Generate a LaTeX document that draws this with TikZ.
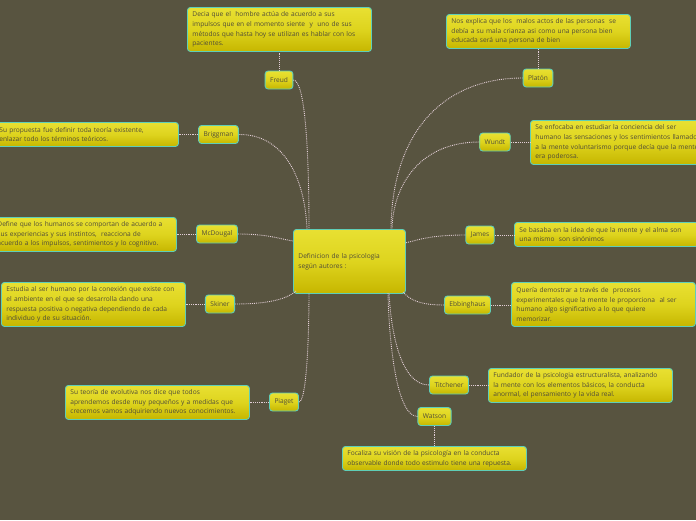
\documentclass[tikz,border=0pt]{standalone}
\usepackage{fontspec}
\setmainfont{Open Sans}
\definecolor{bg}{RGB}{88,84,64}
\definecolor{boxtop}{RGB}{232,224,50}
\definecolor{boxmid}{RGB}{222,212,30}
\definecolor{boxbot}{RGB}{198,182,0}
\definecolor{boxline}{RGB}{94,206,184}
\definecolor{txt}{RGB}{80,76,56}
\definecolor{lnk}{RGB}{226,206,214}
\tikzset{
  basebox/.style={draw=boxline, line width=0.9pt, rounded corners=3pt,
    top color=boxtop, bottom color=boxbot, middle color=boxmid,
    text=txt, font=\fontsize{6.6}{9.8}\selectfont},
  desc/.style={basebox, anchor=north west, minimum width=184pt, text width=174pt,
    inner xsep=5pt, inner ysep=2pt, align=left},
  lbl/.style={basebox, minimum height=18pt, inner xsep=5pt, inner ysep=0pt},
  conn/.style={draw=lnk, line width=0.9pt, densely dotted},
  link/.style={draw=lnk, line width=0.9pt, densely dotted}
}
\begin{document}
\begin{tikzpicture}[x=1pt,y=-1pt]
\fill[bg] (0,0) rectangle (696,520);
\useasboundingbox (0,0) rectangle (696,520);

% central
\node[basebox, anchor=north west, minimum width=112pt, minimum height=64pt, text width=102pt, inner xsep=5pt, align=left] (c) at (293,229) {Definicion de la psicologia\\según autores :};
\coordinate (cFreud) at (309,229);
\coordinate (cBrig) at (307,229);
\coordinate (cPlat) at (391,229);
\coordinate (cWundt) at (392,229);
\coordinate (cMcD) at (293,241);
\coordinate (cSki) at (296,291);
\coordinate (cPia) at (309,293);
\coordinate (cJam) at (405,243);
\coordinate (cEbb) at (403,292);
\coordinate (cTit) at (389,293);
\coordinate (cWat) at (388,293);

% labels
\node[lbl] (freud) at (279,80) {Freud};
\node[lbl] (platon) at (538,78) {Platón};
\node[lbl] (brig) at (218.5,134.5) {Briggman};
\node[lbl] (wundt) at (495,142) {Wundt};
\node[lbl] (mcd) at (217,234) {McDougal};
\node[lbl] (james) at (480,235) {James};
\node[lbl] (skiner) at (220,304) {Skiner};
\node[lbl] (ebb) at (467.5,305) {Ebbinghaus};
\node[lbl] (piaget) at (284,402) {Piaget};
\node[lbl] (titch) at (449,385) {Titchener};
\node[lbl] (watson) at (434.5,416.5) {Watson};

% description boxes
\node[desc, minimum height=44pt] (dfreud) at (187,7) {Decia que el \ hombre actúa de acuerdo a sus\\impulsos que en el momento siente \ y \ uno de sus\\métodos que hasta hoy se utilizan es hablar con los\\pacientes.};
\node[desc, minimum height=34pt] (dplat) at (446,14) {Nos explica que los \ malos actos de las personas \ se\\debía a su mala crianza asi como una persona bien\\educada será una persona de bien};
\node[desc, minimum height=24pt] (dbrig) at (-6,122) {Su propuesta fue definir toda teoría existente,\\enlazar todo los términos teóricos.};
\node[desc, minimum height=44pt] (dwundt) at (530,120) {Se enfocaba en estudiar la conciencia del ser\\humano las sensaciones y los sentimientos llamado\\a la mente voluntarismo porque decía que la mente\\era poderosa.};
\node[desc, minimum height=34pt] (dmcd) at (-8,217) {Define que los humanos se comportan de acuerdo a\\sus experiencias y sus instintos, \ reacciona de\\acuerdo a los impulsos, sentimientos y lo cognitivo.};
\node[desc, minimum height=24pt] (djames) at (514,222) {Se basaba en la idea de que la mente y el alma son\\una mismo \ son sinónimos};
\node[desc, minimum height=44pt] (dski) at (1,282) {Estudia al ser humano por la conexión que existe con\\el ambiente en el que se desarrolla dando una\\respuesta positiva o negativa dependiendo de cada\\individuo y de su situación.};
\node[desc, minimum height=44pt] (debb) at (511,282) {Quería demostrar a través de \ procesos\\experimentales que la mente le proporciona \ al ser\\humano algo significativo a lo que quiere\\memorizar.};
\node[desc, minimum height=34pt] (dpia) at (65,385) {Su teoría de evolutiva nos dice que todos\\aprendemos desde muy pequeños y a medidas que\\crecemos vamos adquiriendo nuevos conocimientos.};
\node[desc, minimum height=34pt] (dtit) at (488,368) {Fundador de la psicologia estructuralista, analizando\\la mente con los elementos básicos, la conducta\\anormal, el pensamiento y la vida real.};
\node[desc, minimum height=24pt] (dwat) at (342,446) {Focaliza su visión de la psicología en la conducta\\observable donde todo estimulo tiene una repuesta.};

% label-to-box links
\draw[link] (freud.north) -- (dfreud.south -| freud.north);
\draw[link] (platon.north) -- (dplat.south -| platon.north);
\draw[link] (brig.west) -- (dbrig.east |- brig.west);
\draw[link] (wundt.east) -- (dwundt.west |- wundt.east);
\draw[link] (mcd.west) -- (dmcd.east |- mcd.west);
\draw[link] (james.east) -- (djames.west |- james.east);
\draw[link] (skiner.west) -- (dski.east |- skiner.west);
\draw[link] (ebb.east) -- (debb.west |- ebb.east);
\draw[link] (piaget.west) -- (dpia.east |- piaget.west);
\draw[link] (titch.east) -- (dtit.west |- titch.east);
\draw[link] (watson.south) -- (dwat.north -| watson.south);

% central connectors
\draw[conn] (freud.east) .. controls (305,80) and (309,150) .. (cFreud);
\draw[conn] (brig.east) .. controls (285,134) and (305,180) .. (cBrig);
\draw[conn] (platon.west) .. controls (445,78) and (392,130) .. (cPlat);
\draw[conn] (wundt.west) .. controls (420,142) and (393,185) .. (cWundt);
\draw[conn] (mcd.east) .. controls (268,234) and (280,239) .. (cMcD);
\draw[conn] (skiner.east) .. controls (272,304) and (288,298) .. (cSki);
\draw[conn] (piaget.east) .. controls (307,402) and (309,330) .. (cPia);
\draw[conn] (james.west) .. controls (430,235) and (418,240) .. (cJam);
\draw[conn] (ebb.west) .. controls (420,305) and (410,300) .. (cEbb);
\draw[conn] (titch.west) .. controls (400,385) and (391,330) .. (cTit);
\draw[conn] (watson.west) .. controls (396,416) and (389,340) .. (cWat);
\end{tikzpicture}
\end{document}
